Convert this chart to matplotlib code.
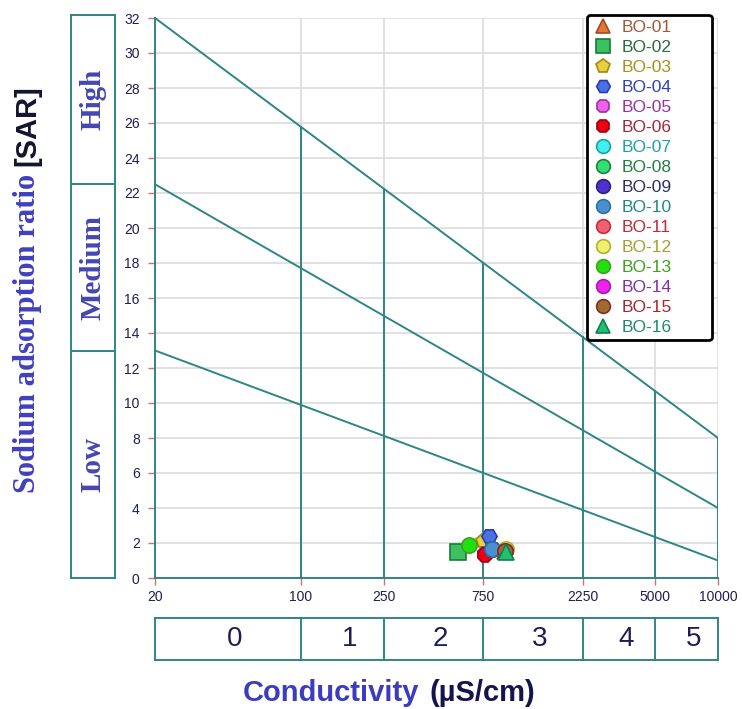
import numpy as np
import matplotlib.pyplot as plt

# --- data -------------------------------------------------------------
samples = ['BO-01', 'BO-02', 'BO-03', 'BO-04', 'BO-05', 'BO-06', 'BO-07', 'BO-08',
           'BO-09', 'BO-10', 'BO-11', 'BO-12', 'BO-13', 'BO-14', 'BO-15', 'BO-16']
conductivity = [950, 567, 745, 800, 765, 765, 825, 825,
                825, 825, 950, 965, 640, 950, 950, 960]
sar = [1.55, 1.50, 2.10, 2.40, 1.35, 1.30, 1.65, 1.65,
       1.65, 1.65, 1.55, 1.65, 1.90, 1.55, 1.55, 1.50]

# classification lines (conductivity 20 -> 10000)
class_x = [20, 10000]
high_line = [32, 8]
medium_line = [22.5, 4]
low_line = [13, 1]
salinity_edges = [20, 100, 250, 750, 2250, 5000, 10000]
salinity_classes = ['0', '1', '2', '3', '4', '5']
sodium_edges = [0, 13, 22.5, 32]
sodium_classes = ['Low', 'Medium', 'High']
x_ticks = [20, 100, 250, 750, 2250, 5000, 10000]
y_ticks = list(range(0, 33, 2))

# --- styles -----------------------------------------------------------
markers = ['^', 's', 'p', 'H', '8', '8', 'o', 'o', 'o', 'o', 'o', 'o', 'o', 'o', 'o', '^']
faces = ['#e8763a', '#3cc060', '#e8d040', '#4a70e8', '#f060f0', '#f00010', '#40f0f0', '#30e070',
         '#5030d0', '#4a90d0', '#f06070', '#f0f070', '#20e010', '#f020f0', '#a06a30', '#20c070']
edges = ['#a04a20', '#1a7a3a', '#a08a10', '#2a3ab0', '#a030a0', '#a00010', '#20a0a0', '#208040',
         '#302080', '#2a70a0', '#c03040', '#b0b030', '#40a020', '#a020a0', '#803020', '#108050']
text_cols = ['#a05a3a', '#2a6a40', '#a89020', '#3040c0', '#a030a0', '#a02a3a', '#20a0a8', '#208040',
             '#303060', '#208888', '#c02a3a', '#a8a030', '#40a020', '#8030a8', '#a02a30', '#208870']
teal = '#2f8585'
navy = '#1e1e55'
blue = '#3c3cc0'
plt.rcParams['font.family'] = ['Liberation Sans', 'DejaVu Sans']

W, H = 742, 709
fig = plt.figure(figsize=(W / 100, H / 100), dpi=100)
ax = fig.add_axes([155 / W, 131 / H, 563 / W, 560 / H])
ax.set_xscale('log')
ax.set_xlim(20, 10000)
ax.set_ylim(0, 32)

# grid
for yv in y_ticks[1:]:
    ax.axhline(yv, color='#dcdcdc', lw=1.2, zorder=0)
for xv in x_ticks[1:]:
    ax.axvline(xv, color='#dcdcdc', lw=1.2, zorder=0)

# class lines
for line in (high_line, medium_line, low_line):
    ax.plot(class_x, line, color=teal, lw=1.4, zorder=1)
for b in salinity_edges[1:]:
    top = np.interp(np.log10(b), np.log10(class_x), high_line)
    ax.plot([b, b], [0, top], color=teal, lw=1.4, zorder=1)

# samples
for i, name in enumerate(samples):
    ax.plot(conductivity[i], sar[i], marker=markers[i], ms=11, mfc=faces[i], mec=edges[i],
            mew=1.2, ls='none', label=name, zorder=3 + i * 0.01)

for s in ['top', 'right']:
    ax.spines[s].set_visible(False)
for s in ['left', 'bottom']:
    ax.spines[s].set_color(teal)
    ax.spines[s].set_linewidth(1.4)

ax.set_xticks(x_ticks)
ax.set_xticklabels([str(v) for v in x_ticks])
ax.xaxis.set_minor_locator(plt.NullLocator())
ax.set_yticks(y_ticks)
ax.tick_params(axis='both', colors='#d07070', labelcolor=navy, labelsize=10, length=5, width=1)
ax.tick_params(axis='y', pad=6)

leg = ax.legend(loc='upper left', bbox_to_anchor=(0.767, 0.425, 0.222, 0.581), mode='expand',
                borderaxespad=0, fontsize=12.5, frameon=True, fancybox=True, edgecolor='black',
                framealpha=1, labelspacing=0.28, handletextpad=0.4, borderpad=0.3,
                handlelength=1.3, markerscale=0.9)
leg.get_frame().set_linewidth(2)
for t, c in zip(leg.get_texts(), text_cols):
    t.set_color(c)
leg.set_zorder(10)

# left sodium class boxes
axl = fig.add_axes([71 / W, 131 / H, 44 / W, 563 / H])
axl.set_xlim(0, 1)
axl.set_ylim(0, 32 * 563 / 560)
axl.set_xticks([])
axl.set_yticks([])
for s in axl.spines.values():
    s.set_color(teal)
    s.set_linewidth(1.4)
for k, lab in enumerate(sodium_classes):
    lo = sodium_edges[k]
    hi = sodium_edges[k + 1] if k < 2 else 32 * 563 / 560
    if k > 0:
        axl.axhline(lo, color=teal, lw=1.4)
    axl.text(0.5, (lo + hi) / 2, lab, rotation=90, ha='center', va='center',
             family='Liberation Serif', fontweight='bold', fontsize=21, color='#4646b4')

# bottom salinity class boxes
axb = fig.add_axes([155 / W, 49 / H, 563 / W, 42 / H])
axb.set_xscale('log')
axb.set_xlim(20, 10000)
axb.set_ylim(0, 1)
axb.set_xticks([])
axb.set_yticks([])
axb.xaxis.set_minor_locator(plt.NullLocator())
for s in axb.spines.values():
    s.set_color(teal)
    s.set_linewidth(1.4)
for k, lab in enumerate(salinity_classes):
    a, b = salinity_edges[k], salinity_edges[k + 1]
    if k > 0:
        axb.axvline(a, color=teal, lw=1.4)
    axb.text(np.sqrt(a * b) * 1.08, 0.5, lab, ha='center', va='center', fontsize=20, color=navy)

# y label (two colours)
t1 = fig.text(27 / W, (H - 493) / H, 'Sodium adsorption ratio', rotation=90,
              rotation_mode='anchor', ha='left', va='center', family='Liberation Serif',
              fontweight='bold', fontsize=22, color='#4040c0')
fig.canvas.draw()
bb = t1.get_window_extent()
fig.text(27 / W, (bb.y1 + 8) / H, '[SAR]', rotation=90, rotation_mode='anchor', ha='left',
         va='center', fontweight='bold', fontsize=21, color='#141430')

# x label (two colours)
t2 = fig.text(243 / W, (H - 693) / H, 'Conductivity', ha='left', va='center',
              fontweight='bold', fontsize=21, color=blue)
fig.canvas.draw()
bb = t2.get_window_extent()
fig.text((bb.x1 + 10) / W, (H - 693) / H, '(µS/cm)', ha='left', va='center',
         fontweight='bold', fontsize=21, color='#141450')

fig.savefig('out.png', dpi=100)
